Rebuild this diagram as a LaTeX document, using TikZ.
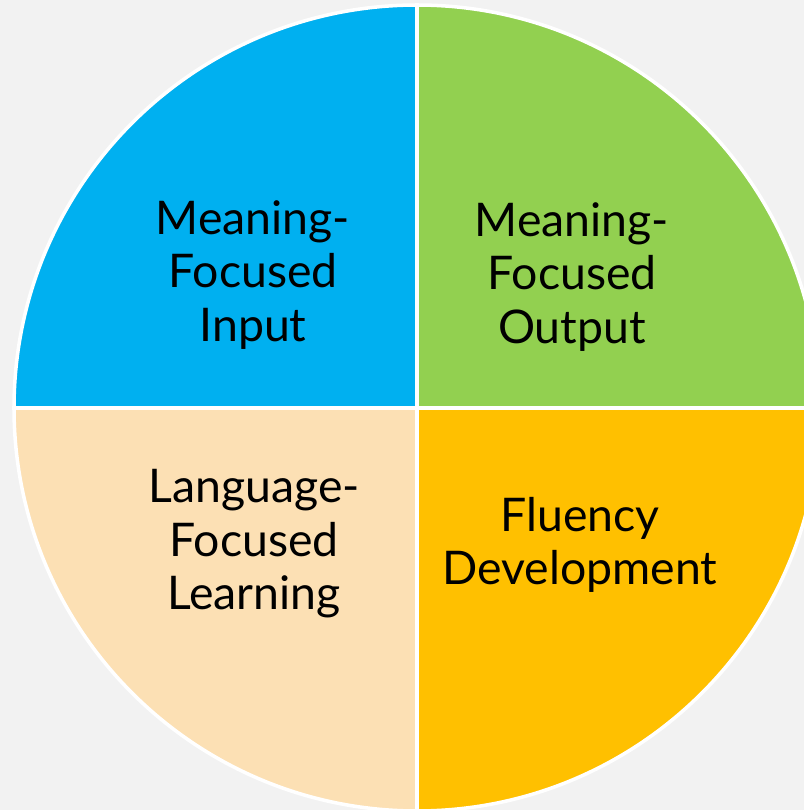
\documentclass[tikz,border=0pt]{standalone}
\usepackage{fontspec}
\setmainfont{Lato}
\definecolor{bgGray}{HTML}{F2F2F2}
\definecolor{mfiBlue}{HTML}{00B0F0}
\definecolor{mfoGreen}{HTML}{92D050}
\definecolor{lflPeach}{HTML}{FCE0B4}
\definecolor{fdGold}{HTML}{FFC000}
\tikzset{
  wedge/.style={draw=white,line width=1pt},
  strand/.style={align=center,font=\fontsize{13.2}{15.2}\selectfont,text=black}
}
\begin{document}
\begin{tikzpicture}
      \useasboundingbox (0,0) rectangle (8.04,8.10);
      \fill[bgGray] (0,0) rectangle (8.04,8.10);
      \clip (0,0) rectangle (8.04,8.10);
      \coordinate (c) at (4.17,4.02);
      % four strands
      \filldraw[wedge,fill=mfiBlue] (c) -- ++(90:4.03)
      arc[start angle=90,end angle=180,radius=4.03] -- cycle;
      \filldraw[wedge,fill=mfoGreen] (c) -- ++(0:4.03)
      arc[start angle=0,end angle=90,radius=4.03] -- cycle;
      \filldraw[wedge,fill=lflPeach] (c) -- ++(180:4.03)
      arc[start angle=180,end angle=270,radius=4.03] -- cycle;
      \filldraw[wedge,fill=fdGold] (c) -- ++(270:4.03)
      arc[start angle=270,end angle=360,radius=4.03] -- cycle;
      % labels
      \node[strand] (mfi) at (2.53,5.35) {Meaning-\\Focused\\Input};
      \node[strand] (mfo) at (5.72,5.33) {Meaning-\\Focused\\Output};
      \node[strand] (lfl) at (2.54,2.66) {Language-\\Focused\\Learning};
      \node[strand] (fd) at (5.80,2.65) {Fluency\\Development};
    \end{tikzpicture}
\end{document}
